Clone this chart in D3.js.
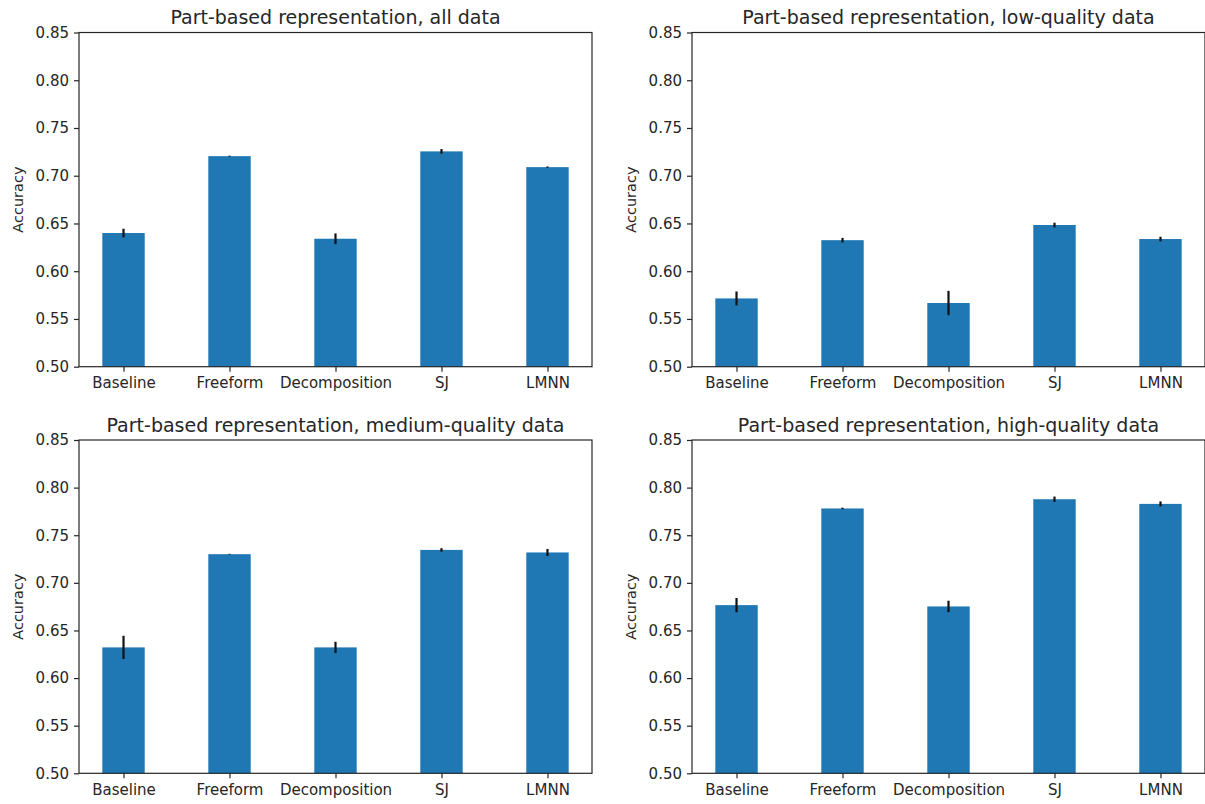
<!DOCTYPE html>
<html>
<head>
<meta charset="utf-8">
<script src="https://cdn.jsdelivr.net/npm/d3@7"></script>
<style>
  html, body { margin: 0; padding: 0; background: #fff; }
  svg { display: block; }
  text { font-family: "DejaVu Sans", sans-serif; fill: #262626; }
</style>
</head>
<body>
<svg id="chart" width="1205" height="804"></svg>
<script>
// Methods compared in every panel
const categories = ["Baseline", "Freeform", "Decomposition", "SJ", "LMNN"];

// Panel titles
const titles = [
  "Part-based representation, all data",
  "Part-based representation, low-quality data",
  "Part-based representation, medium-quality data",
  "Part-based representation, high-quality data"
];

// Mean accuracy per method
const allData    = [0.640, 0.7205, 0.634, 0.7255, 0.709];
const lowData    = [0.5715, 0.6325, 0.5667, 0.6484, 0.6337];
const mediumData = [0.6322, 0.7301, 0.6322, 0.7346, 0.7319];
const highData   = [0.6766, 0.7781, 0.6752, 0.7878, 0.7829];

// Error half-widths
const allErr    = [0.0045, 0.0005, 0.0056, 0.0024, 0.0007];
const lowErr    = [0.0073, 0.0024, 0.0127, 0.0024, 0.0024];
const mediumErr = [0.0122, 0.0004, 0.0059, 0.0018, 0.0037];
const highErr   = [0.0075, 0.0008, 0.0060, 0.0028, 0.0026];

// Y axis ticks
const yTicks = [0.50, 0.55, 0.60, 0.65, 0.70, 0.75, 0.80, 0.85];
const yDomain = [0.50, 0.85];
const yLabel = "Accuracy";

const series = [allData, lowData, mediumData, highData];
const errors = [allErr, lowErr, mediumErr, highErr];

// Panel frames (left, top, width, height)
const frames = [
  { x: 79,  y: 32.5,  w: 513, h: 334.2 },
  { x: 692, y: 32.5,  w: 513, h: 334.2 },
  { x: 79,  y: 440,   w: 513, h: 333.3 },
  { x: 692, y: 440,   w: 513, h: 333.3 }
];

const barColor = "#1f77b4";
const axisColor = "#262626";
const barWidth = 0.4;

const svg = d3.select("#chart");

frames.forEach((f, p) => {
  const g = svg.append("g").attr("transform", `translate(${f.x},${f.y})`);

  const n = categories.length;
  const pad = (n - 1 + barWidth) * 0.05;
  const x = d3.scaleLinear()
    .domain([-barWidth / 2 - pad, n - 1 + barWidth / 2 + pad])
    .range([0, f.w]);
  const y = d3.scaleLinear().domain(yDomain).range([f.h, 0]);

  const vals = series[p];
  const errs = errors[p];

  // bars
  g.selectAll("rect.bar")
    .data(vals)
    .join("rect")
    .attr("class", "bar")
    .attr("x", (d, i) => x(i - barWidth / 2))
    .attr("width", (d, i) => x(i + barWidth / 2) - x(i - barWidth / 2))
    .attr("y", d => y(d))
    .attr("height", d => y(yDomain[0]) - y(d))
    .attr("fill", barColor);

  // error bars
  g.selectAll("line.err")
    .data(vals)
    .join("line")
    .attr("class", "err")
    .attr("x1", (d, i) => x(i))
    .attr("x2", (d, i) => x(i))
    .attr("y1", (d, i) => y(d - errs[i]))
    .attr("y2", (d, i) => y(d + errs[i]))
    .attr("stroke", "#111")
    .attr("stroke-width", 2.2);

  // frame
  g.append("rect")
    .attr("x", 0).attr("y", 0)
    .attr("width", f.w).attr("height", f.h)
    .attr("fill", "none")
    .attr("stroke", axisColor)
    .attr("stroke-width", 1.2);

  // y axis
  const yAxis = d3.axisLeft(y)
    .tickValues(yTicks)
    .tickFormat(d3.format(".2f"))
    .tickSize(5)
    .tickPadding(5);
  const ya = g.append("g").call(yAxis);
  ya.select(".domain").remove();
  ya.selectAll("line").attr("stroke", axisColor).attr("stroke-width", 1.2);
  ya.selectAll("text")
    .attr("font-size", 15)
    .attr("fill", axisColor)
    .style("font-family", "DejaVu Sans, sans-serif");

  // x axis
  const xAxis = d3.axisBottom(x)
    .tickValues(d3.range(n))
    .tickFormat(i => categories[i])
    .tickSize(5)
    .tickPadding(6);
  const xa = g.append("g").attr("transform", `translate(0,${f.h})`).call(xAxis);
  xa.select(".domain").remove();
  xa.selectAll("line").attr("stroke", axisColor).attr("stroke-width", 1.2);
  xa.selectAll("text")
    .attr("font-size", 15)
    .attr("fill", axisColor)
    .style("font-family", "DejaVu Sans, sans-serif");

  // title
  g.append("text")
    .attr("x", f.w / 2)
    .attr("y", -8.5)
    .attr("text-anchor", "middle")
    .attr("font-size", 19)
    .text(titles[p]);

  // y label
  g.append("text")
    .attr("transform", `translate(${-56},${f.h / 2}) rotate(-90)`)
    .attr("text-anchor", "middle")
    .attr("font-size", 14.5)
    .text(yLabel);
});
</script>
</body>
</html>
